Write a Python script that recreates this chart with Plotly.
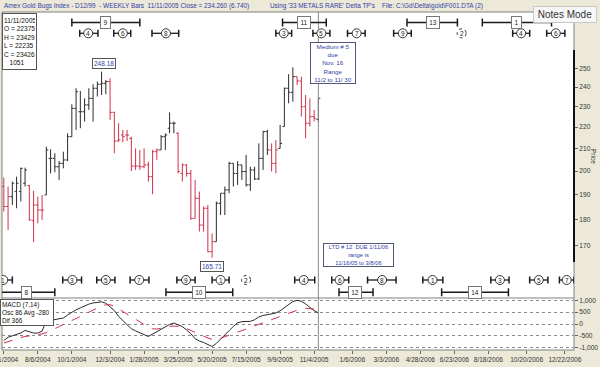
import math
import pandas as pd
import plotly.graph_objects as go

# ---------------- data ----------------
dates = list(pd.date_range("2004-06-11", periods=75, freq="7D"))

opens = [193.4, 185.2, 189.2, 191.3, 191.3, 194.8, 193.8, 179.6, 185.8, 183.8,
         189.9, 205.6, 205.6, 201.9, 203.4, 204.9, 215.5, 229.2, 227.5, 227.5,
         230.9, 234.2, 239.4, 241.5, 242.0, 242.9, 227.2, 213.5, 216.3, 216.3,
         214.7, 202.2, 202.2, 201.9, 202.7, 197.6, 208.6, 209.4, 215.5, 219.5,
         221.9, 217.1, 199.0, 202.7, 199.0, 180.5, 188.5, 177.9, 184.5, 167.9,
         171.6, 186.5, 190.6, 192.0, 203.4, 199.0, 202.7, 199.8, 194.1, 200.5,
         196.6, 205.6, 217.9, 209.4, 203.4, 210.1, 220.3, 239.4, 237.3, 245.5,
         243.2, 230.0, 221.9, 225.1, 223.75]
highs = [197.2, 193.4, 195.5, 197.6, 201.5, 201.5, 194.1, 191.6, 189.2, 189.9,
         210.9, 209.7, 207.9, 204.4, 208.6, 217.1, 231.2, 239.4, 238.0, 234.2,
         239.4, 241.5, 242.9, 248.18, 243.7, 244.6, 227.5, 221.9, 218.7, 218.7,
         215.5, 210.1, 209.4, 210.1, 204.1, 209.4, 210.1, 216.3, 217.1, 227.2,
         222.7, 217.6, 203.4, 203.0, 200.5, 196.2, 191.3, 185.2, 185.8, 174.7,
         187.2, 190.6, 193.4, 204.1, 203.4, 204.4, 202.7, 207.1, 201.9, 201.9,
         212.4, 218.2, 218.7, 212.4, 214.0, 221.1, 239.7, 246.8, 250.5, 245.5,
         245.5, 235.9, 234.2, 228.4, 234.29]
lows = [183.2, 176.0, 185.8, 184.5, 187.2, 193.4, 179.6, 171.4, 178.6, 179.9,
        189.9, 199.0, 199.5, 196.2, 201.2, 204.4, 215.5, 218.7, 219.5, 222.7,
        228.4, 222.7, 235.1, 235.9, 236.3, 223.5, 207.9, 213.2, 212.9, 213.5,
        200.0, 200.5, 200.5, 201.2, 195.5, 190.2, 204.9, 209.4, 209.4, 217.1,
        217.1, 199.0, 195.5, 197.6, 179.9, 180.5, 175.4, 175.4, 167.7, 165.71,
        171.6, 181.8, 181.8, 190.6, 193.4, 194.1, 196.2, 193.4, 191.6, 196.2,
        196.2, 200.5, 207.1, 199.8, 199.0, 210.1, 220.3, 231.7, 232.5, 241.1,
        225.1, 214.7, 220.3, 222.7, 222.35]
closes = [185.2, 189.2, 194.8, 194.8, 201.2, 200.5, 179.9, 185.8, 183.8, 183.8,
          209.4, 205.6, 201.9, 203.4, 204.9, 215.5, 229.2, 237.6, 227.5, 230.9,
          234.2, 239.4, 241.5, 242.0, 242.9, 227.2, 213.5, 214.0, 215.5, 216.3,
          202.2, 202.2, 201.9, 202.7, 197.6, 208.6, 209.4, 215.5, 216.3, 221.9,
          221.9, 199.8, 202.7, 199.0, 180.5, 188.5, 177.9, 184.5, 167.9, 171.6,
          186.5, 190.6, 192.0, 203.4, 199.0, 202.7, 199.8, 194.1, 200.5, 196.6,
          205.6, 217.9, 209.4, 203.4, 209.4, 212.4, 239.4, 237.3, 245.5, 243.2,
          230.0, 221.9, 225.1, 224.3, 234.26]
# bar colour group: B = black (up phase), R = red (down phase)
trend = list("RRBBBBRRRRBBBBBBBBBBBBBBBRRRRRRRRRRRRBBBBRRRRRRRRRBBBBBBBBBBBBBRRBBBBRRRRRB")

macd = [-700, -560, -500, -456, -380, -270, -330, -384, -384, -300,
        120, 155, 160, 200, 253, 380, 500, 600, 680, 770,
        840, 890, 920, 935, 880, 740, 570, 320, 150, -40,
        -200, -290, -384, -450, -527, -420, -314, -200, -90, -20,
        40, -30, -110, -250, -410, -620, -720, -781, -870, -951,
        -820, -650, -490, -280, -100, 50, 100, 111, 111, 180,
        300, 360, 395, 410, 465, 560, 690, 820, 950, 1000,
        960, 850, 720, 560, 470]
signal = [-807, -740, -680, -620, -570, -530, -500, -480, -460, -420,
          -360, -290, -200, -110, -30, 50, 140, 230, 320, 410,
          500, 590, 680, 760, 810, 815, 750, 640, 540, 430,
          310, 190, 80, -30, -130, -200, -215, -180, -130, -100,
          -85, -90, -120, -190, -280, -360, -440, -520, -590, -650,
          -668, -610, -545, -480, -410, -345, -280, -210, -145, -80,
          -15, 50, 120, 185, 250, 320, 385, 450, 520, 590,
          650, 670, 660, 630, 600]

x_tick_dates = ["2004-06-11", "2004-08-06", "2004-10-01", "2004-12-03", "2005-01-28",
                "2005-03-25", "2005-05-20", "2005-07-15", "2005-09-09", "2005-11-04",
                "2006-01-06", "2006-03-03", "2006-04-28", "2006-06-23", "2006-08-18",
                "2006-10-20", "2006-12-22"]
x_tick_text = ["6/11/2004", "8/6/2004", "10/1/2004", "12/3/2004", "1/28/2005",
               "3/25/2005", "5/20/2005", "7/15/2005", "9/9/2005", "11/4/2005",
               "1/6/2006", "3/3/2006", "4/28/2006", "6/23/2006", "8/18/2006",
               "10/20/2006", "12/22/2006"]
price_ticks = [170, 180, 190, 200, 210, 220, 230, 240, 250]
macd_ticks = [-1000, -500, 0, 500, 1000]
macd_tick_text = ["-1,000", "-500", "0", "500", "1,000"]

# Delta turning-point cycles (label, due date, window start, window end)
top_tp_labels = ["2", "4", "6", "8", "3", "5", "7", "9", "2", "4", "6"]
top_tp_due = ["2004-07-16", "2004-10-28", "2004-12-24", "2005-03-05", "2005-09-15", "2005-11-16",
              "2006-01-13", "2006-03-30", "2006-07-05", "2006-10-11", "2006-12-07"]
top_tp_start = ["2004-07-01", "2004-10-14", "2004-12-09", "2005-02-10", "2005-09-02", "2005-11-02",
                "2005-12-29", "2006-03-15", "2006-07-05", "2006-09-27", "2006-11-22"]
top_tp_end = ["2004-08-01", "2004-11-13", "2005-01-06", "2005-03-26", "2005-09-28", "2005-11-30",
              "2006-01-27", "2006-04-13", "2006-07-05", "2006-10-25", "2006-12-22"]

bot_tp_labels = ["1", "3", "5", "7", "9", "1", "2", "4", "6", "8", "1", "3", "5", "7"]
bot_tp_due = ["2004-06-10", "2004-10-02", "2004-11-26", "2005-01-20", "2005-04-07", "2005-06-03",
              "2005-07-15", "2005-10-18", "2005-12-16", "2006-02-24", "2006-05-18", "2006-09-06",
              "2006-11-09", "2006-12-25"]
bot_tp_start = ["2004-05-26", "2004-09-16", "2004-11-11", "2005-01-05", "2005-03-23", "2005-05-20",
                "2005-07-15", "2005-10-03", "2005-12-03", "2006-01-31", "2006-05-02", "2006-08-22",
                "2006-10-25", "2006-12-13"]
bot_tp_end = ["2004-06-25", "2004-10-17", "2004-12-11", "2005-02-05", "2005-04-22", "2005-06-17",
              "2005-07-15", "2005-11-05", "2005-12-31", "2006-03-19", "2006-06-04", "2006-09-21",
              "2006-11-24", "2007-01-06"]

top_ltd_labels = ["9", "11", "13", "1"]
top_ltd_due = ["2004-11-25", "2005-10-18", "2006-05-18", "2006-10-03"]
top_ltd_start = ["2004-10-01", "2005-09-13", "2006-04-06", "2006-08-08"]
top_ltd_end = ["2005-01-21", "2005-11-24", "2006-06-28", "2006-11-30"]

bot_ltd_labels = ["8", "10", "12", "14"]
bot_ltd_due = ["2004-07-18", "2005-04-28", "2006-01-11", "2006-07-27"]
bot_ltd_start = ["2004-05-20", "2005-03-05", "2005-12-15", "2006-06-02"]
bot_ltd_end = ["2004-09-03", "2005-06-23", "2006-02-09", "2006-09-20"]

# ---------------- styling ----------------
BLACK = "#2b2b2b"
RED = "#d0304a"
BLUE = "#3040a8"
FONT = "Liberation Sans, Arial, sans-serif"
W, H = 600, 367
ML, MR, MT, MB = 2, 26, 12, 17
PH = H - MT - MB
SPLIT = (H - MB - 298) / PH
INFO_BOX_END = "2004-08-01"   # markers before this date sit under the info box


def py(px_y):
    return (H - MB - px_y) / PH


def pxx(px_x):
    return (px_x - ML) / (W - ML - MR)


fig = go.Figure()

for group, col in (("B", BLACK), ("R", RED)):
    idx = [i for i, t in enumerate(trend) if t == group]
    fig.add_trace(go.Ohlc(
        x=[dates[i] for i in idx],
        open=[opens[i] for i in idx], high=[highs[i] for i in idx],
        low=[lows[i] for i in idx], close=[closes[i] for i in idx],
        increasing=dict(line=dict(color=col, width=1)),
        decreasing=dict(line=dict(color=col, width=1)),
        tickwidth=0.45, xaxis="x", yaxis="y", showlegend=False, hoverinfo="skip"))

fig.add_trace(go.Scatter(x=dates, y=macd, mode="lines", line=dict(color=BLACK, width=1),
                         xaxis="x", yaxis="y2", showlegend=False, hoverinfo="skip"))
fig.add_trace(go.Scatter(x=dates, y=signal, mode="lines", line=dict(color=RED, width=1, dash="dash"),
                         xaxis="x", yaxis="y2", showlegend=False, hoverinfo="skip"))

shapes = []
annotations = []

# frame and panel separator
shapes.append(dict(type="rect", xref="paper", yref="paper", x0=0, x1=1, y0=0, y1=1,
                   line=dict(color="#808080", width=1)))
shapes.append(dict(type="line", xref="paper", yref="paper", x0=0, x1=1, y0=SPLIT, y1=SPLIT,
                   line=dict(color="#808080", width=1)))
shapes.append(dict(type="line", xref="paper", yref="paper", x0=1, x1=1, y0=py(262), y1=py(50),
                   line=dict(color="#111111", width=2)))
# cursor line at last bar
shapes.append(dict(type="line", xref="x", yref="paper", x0=dates[-1], x1=dates[-1], y0=0, y1=1,
                   line=dict(color="#8a8a8a", width=1)))


def add_tp_row(labels, due, start, end, row_y):
    for lab, d, s, e in zip(labels, due, start, end):
        if s != e:
            shapes.append(dict(type="line", xref="x", yref="paper", x0=s, x1=e, y0=row_y, y1=row_y,
                               line=dict(color="#1a1a1a", width=1.3)))
            for xx in (s, e):
                shapes.append(dict(type="line", xref="x", x0=xx, x1=xx, yref="paper",
                                   ysizemode="pixel", yanchor=row_y, y0=-3.5, y1=3.5,
                                   line=dict(color="#1a1a1a", width=1.5)))
            dash = "solid"
        else:
            dash = "dot"
        shapes.append(dict(type="circle", xref="x", xsizemode="pixel", xanchor=d, x0=-4.5, x1=4.5,
                           yref="paper", ysizemode="pixel", yanchor=row_y, y0=-4.5, y1=4.5,
                           fillcolor="white", line=dict(color="#333333", width=1, dash=dash)))
        if row_y > 0.5 and d < INFO_BOX_END:
            continue  # hidden under the info box in the reference
        annotations.append(dict(x=d, y=row_y, xref="x", yref="paper", text=lab, showarrow=False,
                                font=dict(size=6.5, color="#222222", family=FONT),
                                xanchor="center", yanchor="middle"))


def add_ltd_row(labels, due, start, end, row_y):
    for lab, d, s, e in zip(labels, due, start, end):
        shapes.append(dict(type="line", xref="x", yref="paper", x0=s, x1=e, y0=row_y, y1=row_y,
                           line=dict(color="#1a1a1a", width=1.5)))
        for xx in (s, e):
            shapes.append(dict(type="line", xref="x", x0=xx, x1=xx, yref="paper",
                               ysizemode="pixel", yanchor=row_y, y0=-4, y1=4,
                               line=dict(color="#1a1a1a", width=1.5)))
        annotations.append(dict(x=d, y=row_y, xref="x", yref="paper", text=lab, showarrow=False,
                                font=dict(size=6.5, color="#222222", family=FONT),
                                bgcolor="white", bordercolor="#777777", borderwidth=1, borderpad=1,
                                width=7 if len(lab) == 1 else 10, height=9,
                                xanchor="center", yanchor="middle"))


add_ltd_row(top_ltd_labels, top_ltd_due, top_ltd_start, top_ltd_end, py(22.5))
add_tp_row(top_tp_labels, top_tp_due, top_tp_start, top_tp_end, py(33.3))
add_tp_row(bot_tp_labels, bot_tp_due, bot_tp_start, bot_tp_end, py(280))
add_ltd_row(bot_ltd_labels, bot_ltd_due, bot_ltd_start, bot_ltd_end, py(292.3))

# high / low labels
i_hi = highs.index(max(highs[:40]))
i_lo = lows.index(min(lows))
annotations.append(dict(x=dates[i_hi], y=math.log10(highs[i_hi]), xref="x", yref="y",
                        text=f"{highs[i_hi]:.2f}", showarrow=False, yanchor="bottom", yshift=3, xshift=2,
                        font=dict(size=6.5, color=BLUE, family=FONT), bgcolor="white",
                        bordercolor="#555555", borderwidth=1, borderpad=1))
annotations.append(dict(x=dates[i_lo], y=math.log10(lows[i_lo]), xref="x", yref="y",
                        text=f"{lows[i_lo]:.2f}", showarrow=False, yanchor="top", yshift=-3,
                        font=dict(size=6.5, color=BLUE, family=FONT), bgcolor="white",
                        bordercolor="#555555", borderwidth=1, borderpad=1))

# header texts
annotations.append(dict(x=0, y=py(6), xref="paper", yref="paper", xanchor="left", yanchor="middle",
                        text="Amex Gold Bugs Index - D12/99 \u00a0- WEEKLY Bars \u00a011/11/2005 Close = 234.260 (6.740)",
                        showarrow=False, font=dict(size=6.4, color=BLUE, family=FONT)))
annotations.append(dict(x=pxx(268), y=py(6), xref="paper", yref="paper", xanchor="left", yanchor="middle",
                        text="Using '33 METALS RARE' Delta TP's \u00a0\u00a0\u00a0File: C:\\Gd\\Delta\\gold\\F001.DTA (2)",
                        showarrow=False, font=dict(size=6.4, color=BLUE, family=FONT)))
annotations.append(dict(x=pxx(564.5), y=py(14), xref="paper", yref="paper", xanchor="center", yanchor="middle",
                        text="Notes Mode", showarrow=False, font=dict(size=10, color="#333333", family=FONT),
                        bgcolor="#f7f7f7", bordercolor="#c8c8c8", borderwidth=1, width=60, height=13))

# info boxes
annotations.append(dict(x=0, y=py(13), xref="paper", yref="paper", xanchor="left", yanchor="top",
                        text="11/11/2005<br>O = 22375<br>H = 23429<br>L = 22235<br>C = 23426<br>\u00a0\u00a0\u00a01051",
                        align="left", showarrow=False, font=dict(size=6.6, color="#111111", family=FONT),
                        bgcolor="white", bordercolor="#555555", borderwidth=1, borderpad=1, width=31, height=53))
annotations.append(dict(x=pxx(0), y=py(299), xref="paper", yref="paper", xanchor="left", yanchor="top",
                        text="MACD (7,14)<br>Osc 86 Avg -280<br>Dif 366",
                        align="left", showarrow=False, font=dict(size=6.4, color="#111111", family=FONT),
                        bgcolor="white", bordercolor="#555555", borderwidth=1, borderpad=1, width=50, height=23))
annotations.append(dict(x=pxx(332.5), y=py(63), xref="paper", yref="paper", xanchor="center", yanchor="middle",
                        text="Medium # 5<br>due<br>Nov. 16<br>Range<br>11/2 to 11/ 30",
                        align="center", showarrow=False, font=dict(size=6.2, color=BLUE, family=FONT),
                        bgcolor="white", bordercolor="#555577", borderwidth=1, borderpad=1, width=42, height=38))
annotations.append(dict(x=pxx(358), y=py(255), xref="paper", yref="paper", xanchor="center", yanchor="middle",
                        text="LTD # 12 \u00a0DUE 1/11/06<br>range is<br>11/16/05 to 3/8/06",
                        align="center", showarrow=False, font=dict(size=5.8, color=BLUE, family=FONT),
                        bgcolor="white", bordercolor="#555577", borderwidth=1, borderpad=1, width=67, height=20))
annotations.append(dict(x=pxx(593), y=py(156), xref="paper", yref="paper", xanchor="center", yanchor="middle",
                        text="Price", textangle=90, showarrow=False,
                        font=dict(size=6.5, color="#333333", family=FONT)))

fig.update_layout(
    width=W, height=H,
    margin=dict(l=ML, r=MR, t=MT, b=MB, pad=0, autoexpand=False),
    paper_bgcolor="#ECE9D8", plot_bgcolor="white",
    showlegend=False, hovermode=False,
    font=dict(family=FONT, size=7, color="#333333"),
    xaxis=dict(domain=[0, 1], anchor="y2", type="date", automargin=False,
               range=["2004-06-08", "2007-01-06"],
               tickmode="array", tickvals=x_tick_dates, ticktext=x_tick_text,
               tickfont=dict(size=6.6, color="#333333"), ticks="outside", ticklen=3,
               tickcolor="#666666", showgrid=False, zeroline=False, showline=False,
               ticklabeloverflow="allow", rangeslider=dict(visible=False)),
    yaxis=dict(domain=[SPLIT, 1], anchor="x", type="log", side="right", automargin=False,
               range=[2.1814, 2.4510], tickmode="array", tickvals=price_ticks,
               ticktext=[str(v) for v in price_ticks],
               tickfont=dict(size=6.6, color="#333333"), ticks="outside", ticklen=3,
               tickcolor="#666666", showgrid=False, zeroline=False, showline=False),
    yaxis2=dict(domain=[0, SPLIT], anchor="x", side="right", range=[-1099, 1099], automargin=False,
                tickmode="array", tickvals=macd_ticks, ticktext=macd_tick_text,
                tickfont=dict(size=6.6, color="#333333"), ticks="outside", ticklen=3,
                tickcolor="#666666", showgrid=True, gridcolor="#8a8a8a", griddash="dot",
                gridwidth=1, zeroline=False, showline=False),
    shapes=shapes, annotations=annotations,
)

fig.write_html("out.html", config={"displayModeBar": False},
               post_script="document.body.style.margin='0';document.body.style.background='#ECE9D8';")
